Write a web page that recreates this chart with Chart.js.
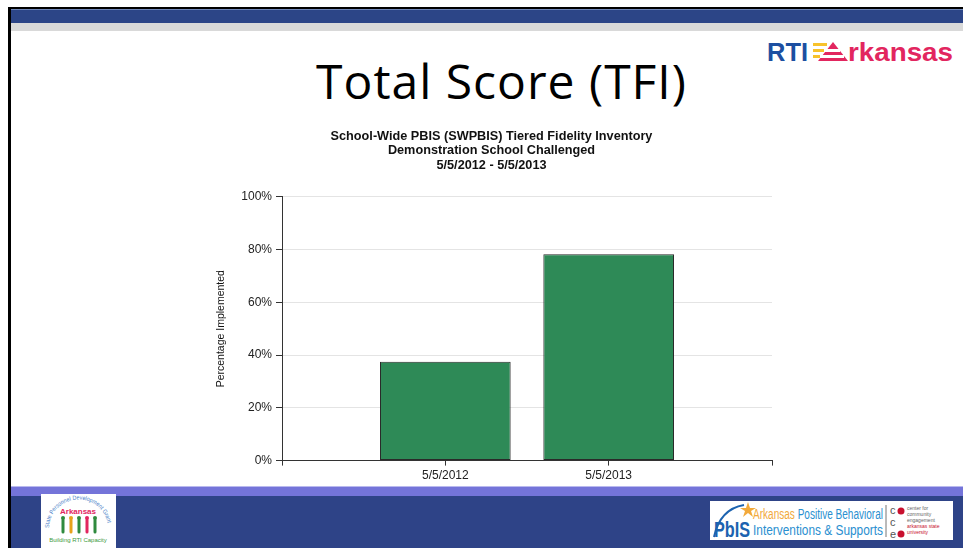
<!DOCTYPE html>
<html>
<head>
<meta charset="utf-8">
<script src="https://cdn.jsdelivr.net/npm/chart.js@4/dist/chart.umd.min.js"></script>
<style>
  html, body { margin: 0; padding: 0; background: #fff; }
  body { width: 963px; height: 548px; position: relative; overflow: hidden; font-family: "Liberation Sans", Arial, sans-serif; }
  .abs { position: absolute; }
  #topLine { left: 8px; top: 7px; width: 955px; height: 2px; background: #000; }
  #leftLine { left: 8px; top: 7px; width: 3px; height: 541px; background: #000; }
  #blueBar { left: 11px; top: 9px; width: 952px; height: 14px; background: #2c4587; border-top: 1px solid #6f86b8; box-sizing: border-box; }
  #greyBar { left: 11px; top: 23px; width: 952px; height: 8px; background: #d9d9d9; }
  #slideTitle { left: 20px; width: 963px; top: 51px; text-align: center; font-family: "Open Sans", Lato, sans-serif; font-size: 48px; letter-spacing: 1px; color: #000; line-height: 60px; }
  #rtiLogo { left: 760px; top: 34px; }
  #footPurple { left: 11px; top: 486px; width: 952px; height: 10px; background: #7474d9; border-top: 1px solid #b9b9ee; box-sizing: border-box; }
  #footBlue { left: 11px; top: 496px; width: 952px; height: 52px; background: #2e4387; }
  #leftLogo { left: 41px; top: 494px; width: 75px; height: 54px; background: #fff; }
  #rightLogo { left: 710px; top: 501px; width: 243px; height: 39px; background: #fff; }
  #chartBox { left: 200px; top: 124px; width: 575px; height: 364px; }
</style>
</head>
<body>
<div class="abs" id="blueBar"></div>
<div class="abs" id="greyBar"></div>
<div class="abs" id="topLine"></div>
<div class="abs" id="leftLine"></div>

<div class="abs" id="slideTitle">Total Score (TFI)</div>

<svg class="abs" id="rtiLogo" width="200" height="34" viewBox="0 0 200 34">
  <text x="7" y="27" font-size="26" font-weight="bold" fill="#1c4fa1" font-family="Liberation Sans" textLength="41" lengthAdjust="spacingAndGlyphs">RTI</text>
  <rect x="53" y="9" width="14" height="3" fill="#f7c22b"/>
  <rect x="53" y="15" width="14" height="3" fill="#f7c22b"/>
  <rect x="53" y="21" width="14" height="3" fill="#f7c22b"/>
  <polygon points="58,27 73,8 88,27" fill="#e2265f"/>
  <rect x="64" y="15" width="16" height="3" fill="#fff"/>
  <rect x="60" y="21" width="24" height="3" fill="#fff"/>
  <text x="88" y="27" font-size="26" font-weight="bold" fill="#e2265f" font-family="Liberation Sans" textLength="105" lengthAdjust="spacingAndGlyphs">rkansas</text>
</svg>

<div class="abs" id="chartBox"><canvas id="tfiChart"></canvas></div>

<div class="abs" id="footPurple"></div>
<div class="abs" id="footBlue"></div>

<div class="abs" id="leftLogo">
  <svg width="75" height="54" viewBox="0 0 75 54">
    <path id="arcPath" d="M8,34 A29,28 0 0 1 67,34" fill="none"/>
    <text font-size="6" fill="#4a7fc8" font-family="Liberation Sans"><textPath href="#arcPath" textLength="86" lengthAdjust="spacingAndGlyphs">State Personnel Development Grant</textPath></text>
    <text x="37" y="20" font-size="8" font-weight="bold" fill="#e2265f" text-anchor="middle" font-family="Liberation Sans">Arkansas</text>
    <g stroke-width="3" stroke-linecap="round">
      <line x1="22" y1="26" x2="22" y2="38" stroke="#2f8a3e"/><circle cx="22" cy="24" r="2" fill="#2f8a3e"/>
      <line x1="30" y1="26" x2="30" y2="38" stroke="#e8a21c"/><circle cx="30" cy="24" r="2" fill="#e8a21c"/>
      <line x1="38" y1="26" x2="38" y2="38" stroke="#2f8a3e"/><circle cx="38" cy="24" r="2" fill="#2f8a3e"/>
      <line x1="46" y1="26" x2="46" y2="38" stroke="#e2265f"/><circle cx="46" cy="24" r="2" fill="#e2265f"/>
      <line x1="54" y1="26" x2="54" y2="38" stroke="#2f8a3e"/><circle cx="54" cy="24" r="2" fill="#2f8a3e"/>
    </g>
    <text x="37" y="48" font-size="6" fill="#3d9a3d" text-anchor="middle" font-family="Liberation Sans">Building RTI Capacity</text>
  </svg>
</div>

<div class="abs" id="rightLogo">
  <svg width="243" height="39" viewBox="0 0 243 39">
    <path d="M4,36 Q10,8 34,4" fill="none" stroke="#1c63b0" stroke-width="2"/>
    <polygon points="38,1 40,7 46,7 41,10 43,16 38,12 33,16 35,10 30,7 36,7" fill="#f2a93b"/>
    <text x="4" y="36" font-size="22" font-weight="bold" fill="#1c63b0" font-family="Liberation Sans" textLength="36" lengthAdjust="spacingAndGlyphs">PbIS</text>
    <text x="43" y="18" font-size="14" fill="#f2a93b" font-family="Liberation Sans" textLength="130" lengthAdjust="spacingAndGlyphs">Arkansas <tspan fill="#2a8fd0">Positive Behavioral</tspan></text>
    <text x="43" y="34" font-size="14" fill="#2a8fd0" font-family="Liberation Sans" textLength="130" lengthAdjust="spacingAndGlyphs">Interventions &amp; Supports</text>
    <line x1="176" y1="4" x2="176" y2="36" stroke="#777" stroke-width="1"/>
    <text x="180" y="13" font-size="11" fill="#555" font-family="Liberation Sans">c</text>
    <circle cx="191" cy="10" r="3.5" fill="#c8102e"/>
    <text x="180" y="25" font-size="11" fill="#555" font-family="Liberation Sans">c</text>
    <text x="180" y="37" font-size="11" fill="#555" font-family="Liberation Sans">e</text>
    <circle cx="191" cy="33" r="3.5" fill="#c8102e"/>
    <text x="197" y="9" font-size="5" fill="#666" font-family="Liberation Sans">center for</text>
    <text x="197" y="15" font-size="5" fill="#666" font-family="Liberation Sans">community</text>
    <text x="197" y="21" font-size="5" fill="#666" font-family="Liberation Sans">engagement</text>
    <text x="197" y="27" font-size="5" fill="#c8102e" font-family="Liberation Sans">arkansas state</text>
    <text x="197" y="33" font-size="5" fill="#c8102e" font-family="Liberation Sans">university</text>
  </svg>
</div>

<script>
// chart data
const categories = ['5/5/2012', '5/5/2013'];
const percentImplemented = [37.5, 78.2];
const yTicks = [0, 20, 40, 60, 80, 100];
const titleLines = [
    'School-Wide PBIS (SWPBIS) Tiered Fidelity Inventory',
    'Demonstration School Challenged',
    '5/5/2012 - 5/5/2013'
];
const yAxisTitle = 'Percentage Implemented';

const axisColor = '#333333';
const gridColor = '#e4e4e4';
const barColor = '#2e8a57';

function createTfiChart() {
    const ctx = document.getElementById('tfiChart');
    if (!ctx) return;

    new Chart(ctx, {
        type: 'bar',
        data: {
            datasets: [{
                data: categories.map((label, i) => ({ x: i + 1, y: percentImplemented[i] })),
                backgroundColor: barColor,
                borderColor: '#2a2a2a',
                borderWidth: 1,
                borderSkipped: false,
                barPercentage: 1,
                categoryPercentage: 0.8
            }]
        },
        options: {
            responsive: true,
            maintainAspectRatio: false,
            animation: false,
            layout: { padding: { left: 8, right: 0, top: 0, bottom: 2 } },
            plugins: {
                legend: { display: false },
                tooltip: { enabled: false },
                title: {
                    display: true,
                    text: titleLines,
                    color: '#111',
                    font: { family: 'Liberation Sans', size: 12.7, weight: 'bold', lineHeight: 1.15 },
                    padding: { top: 5, bottom: 24 }
                }
            },
            scales: {
                x: {
                    type: 'linear',
                    min: 0,
                    max: categories.length + 1,
                    offset: false,
                    border: { color: axisColor, width: 1 },
                    grid: { display: true, offset: false, drawOnChartArea: false, drawTicks: true, tickLength: 5, color: axisColor },
                    ticks: {
                        stepSize: 1,
                        autoSkip: false,
                        maxRotation: 0,
                        padding: 3,
                        color: '#222',
                        font: { family: 'Liberation Sans', size: 12 },
                        callback: v => categories[v - 1] || ''
                    }
                },
                y: {
                    min: yTicks[0],
                    max: yTicks[yTicks.length - 1],
                    afterFit: scale => { scale.width = 74; },
                    afterBuildTicks: scale => { scale.ticks = yTicks.map(v => ({ value: v })); },
                    border: { color: axisColor, width: 1 },
                    grid: { color: gridColor, tickColor: axisColor, tickLength: 6 },
                    ticks: {
                        padding: 4,
                        color: '#222',
                        font: { family: 'Liberation Sans', size: 12 },
                        callback: v => v + '%'
                    },
                    title: {
                        display: true,
                        text: yAxisTitle,
                        color: '#111',
                        font: { family: 'Liberation Sans', size: 10.5 },
                        padding: { top: 7, bottom: 0 }
                    }
                }
            }
        }
    });
}

createTfiChart();
</script>
</body>
</html>
